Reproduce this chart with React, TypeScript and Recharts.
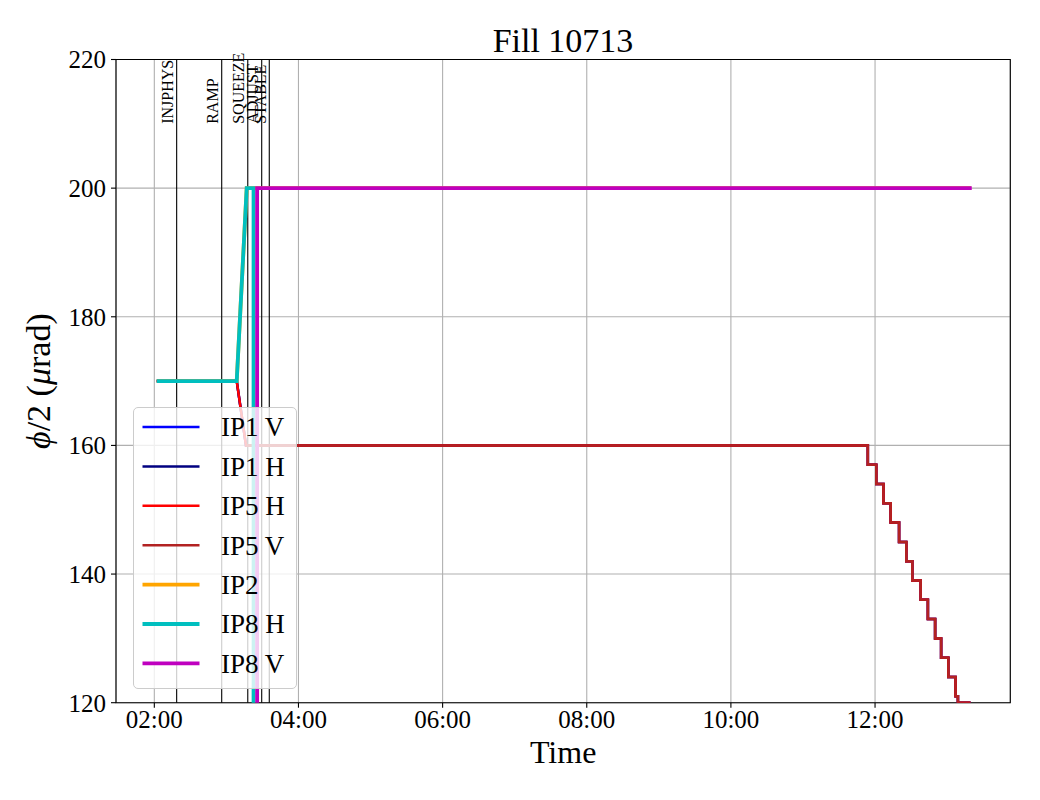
import React from 'react';
import {
  ComposedChart,
  Line,
  XAxis,
  YAxis,
  CartesianGrid,
  ReferenceLine,
  ReferenceArea,
  Legend,
} from 'recharts';

const FONT = '"Liberation Serif", "Times New Roman", Times, serif';

// Time is expressed in minutes after midnight
const X_DOMAIN: [number, number] = [88.1, 832.6];
const X_TICKS = [120, 240, 360, 480, 600, 720];
const Y_DOMAIN: [number, number] = [120, 220];
const Y_TICKS = [120, 140, 160, 180, 200, 220];

// Beam-mode markers
const MODE_NAMES = ['INJPHYS', 'RAMP', 'SQUEEZE', 'ADJUST', 'STABLE'];
const MODE_TIMES = [138.6, 176.1, 197.8, 209.4, 215.7];

// Leveling staircase (IP1 / IP5)
const STEP_TIMES = [714, 721, 727, 733, 740, 746, 751, 758, 764, 770, 775, 781, 787, 789];
const STEP_VALUES = [157, 154, 151, 148, 145, 142, 139, 136, 133, 130, 127, 124, 121, 120];
const END_TIME = 799.5;

// Start of the fill (before leveling)
const IP15_START: [number, number][] = [
  [122, 170],
  [188.6, 170],
  [196.3, 160],
];
const IP5V_START: [number, number][] = [[196.3, 160]];

const IP2_POINTS: [number, number][] = [
  [122, 170],
  [188.6, 170],
  [196.9, 200],
  [800, 200],
];
const IP8H_POINTS: [number, number][] = [
  [122, 170],
  [188.6, 170],
  [196.9, 200],
  [202.6, 200],
  [202.6, -200],
];
const IP8V_POINTS: [number, number][] = [
  [205.6, -200],
  [205.6, 200],
  [800.5, 200],
];

type Pt = { t: number; v: number };

function toPts(arr: [number, number][]): Pt[] {
  return arr.map(([t, v]) => ({ t, v }));
}

function stairs(start: [number, number][], times: number[], values: number[], end: number): Pt[] {
  const pts = toPts(start);
  let prev = pts[pts.length - 1].v;
  times.forEach((t, i) => {
    pts.push({ t, v: prev });
    pts.push({ t, v: values[i] });
    prev = values[i];
  });
  pts.push({ t: end, v: prev });
  return pts;
}

const ip1v = stairs(IP15_START, STEP_TIMES, STEP_VALUES, END_TIME);
const ip1h = stairs(IP15_START, STEP_TIMES, STEP_VALUES, END_TIME);
const ip5h = stairs(IP15_START, STEP_TIMES, STEP_VALUES, END_TIME);
const ip5v = stairs(IP5V_START, STEP_TIMES, STEP_VALUES, END_TIME);
const ip2 = toPts(IP2_POINTS);
const ip8h = toPts(IP8H_POINTS);
const ip8v = toPts(IP8V_POINTS);

const SERIES = [
  { name: 'IP1 V', data: ip1v, color: '#0000ff', width: 2.5 },
  { name: 'IP1 H', data: ip1h, color: '#000080', width: 2.5 },
  { name: 'IP5 H', data: ip5h, color: '#ff0000', width: 2.5 },
  { name: 'IP5 V', data: ip5v, color: '#b22222', width: 2.5 },
  { name: 'IP2', data: ip2, color: '#ffa500', width: 3.8 },
  { name: 'IP8 H', data: ip8h, color: '#00bfbf', width: 3.8 },
  { name: 'IP8 V', data: ip8v, color: '#bf00bf', width: 3.8 },
];

const fmtTime = (m: number) => {
  const h = Math.floor(m / 60);
  const mm = Math.round(m - h * 60);
  return `${String(h).padStart(2, '0')}:${String(mm).padStart(2, '0')}`;
};

const ModeLabel = (props: any) => {
  const vb = props.viewBox || {};
  const x = vb.x - 3.5;
  const y = vb.y + 0.1 * vb.height;
  return (
    <text
      transform={`translate(${x}, ${y}) rotate(-90)`}
      textAnchor="start"
      fontFamily={FONT}
      fontSize={16}
      fill="#000"
    >
      {props.text}
    </text>
  );
};

const YLabel = (props: any) => {
  const vb = props.viewBox || {};
  const cy = vb.y + vb.height / 2;
  return (
    <text
      transform={`translate(50, ${cy}) rotate(-90)`}
      textAnchor="middle"
      fontFamily={FONT}
      fontSize={34}
      fill="#000"
    >
      <tspan fontStyle="italic">ϕ</tspan>
      <tspan>/2 (</tspan>
      <tspan fontStyle="italic">μ</tspan>
      <tspan>rad)</tspan>
    </text>
  );
};

const XLabel = (props: any) => {
  const vb = props.viewBox || {};
  const cx = vb.x + vb.width / 2;
  return (
    <text x={cx} y={763} textAnchor="middle" fontFamily={FONT} fontSize={32} fill="#000">
      Time
    </text>
  );
};

const LegendBox = () => {
  const rowH = 39.4;
  return (
    <div
      style={{
        width: 164,
        height: 282,
        boxSizing: 'border-box',
        border: '1px solid #cccccc',
        borderRadius: 5,
        background: 'rgba(255,255,255,0.8)',
        position: 'relative',
      }}
    >
      <svg width={164} height={282} style={{ position: 'absolute', left: -1, top: -1 }}>
        {SERIES.map((s, i) => {
          const cy = 20 + i * rowH;
          return (
            <g key={s.name}>
              <line x1={9.5} x2={66.5} y1={cy} y2={cy} stroke={s.color} strokeWidth={s.width} />
              <text x={88} y={cy + 9.3} fontFamily={FONT} fontSize={27} fill="#000">
                {s.name}
              </text>
            </g>
          );
        })}
      </svg>
    </div>
  );
};

export default function App() {
  return (
    <div style={{ position: 'absolute', left: 0, top: 0, width: 1040, height: 800, background: '#fff' }}>
      <svg
        width={1040}
        height={60}
        style={{ position: 'absolute', left: 0, top: 0, pointerEvents: 'none' }}
      >
        <text x={563} y={52} textAnchor="middle" fontFamily={FONT} fontSize={34} fill="#000">
          Fill 10713
        </text>
      </svg>
      <ComposedChart
        width={1040}
        height={800}
        margin={{ top: 59.5, right: 29.7, bottom: 0, left: 0 }}
        style={{ position: 'absolute', left: 0, top: 0 }}
      >
        <CartesianGrid stroke="#b0b0b0" strokeWidth={1.1} />
        <XAxis
          dataKey="t"
          type="number"
          domain={X_DOMAIN}
          ticks={X_TICKS}
          allowDataOverflow
          tickFormatter={fmtTime}
          height={97.3}
          tickSize={5}
          tickMargin={3}
          axisLine={false}
          tickLine={{ stroke: '#000', strokeWidth: 1.1 }}
          tick={{ fontFamily: FONT, fontSize: 25, fill: '#000' }}
          label={<XLabel />}
        />
        <YAxis
          type="number"
          domain={Y_DOMAIN}
          ticks={Y_TICKS}
          allowDataOverflow
          width={116}
          tickSize={5}
          tickMargin={5}
          axisLine={false}
          tickLine={{ stroke: '#000', strokeWidth: 1.1 }}
          tick={{ fontFamily: FONT, fontSize: 25, fill: '#000' }}
          label={<YLabel />}
        />
        {MODE_TIMES.map((t, i) => (
          <ReferenceLine
            key={MODE_NAMES[i]}
            x={t}
            stroke="#000"
            strokeWidth={1.1}
            label={<ModeLabel text={MODE_NAMES[i]} />}
          />
        ))}
        {SERIES.map((s) => (
          <Line
            key={s.name}
            data={s.data}
            dataKey="v"
            name={s.name}
            type="linear"
            stroke={s.color}
            strokeWidth={s.width}
            dot={false}
            activeDot={false}
            isAnimationActive={false}
          />
        ))}
        <ReferenceArea
          x1={X_DOMAIN[0]}
          x2={X_DOMAIN[1]}
          y1={Y_DOMAIN[0]}
          y2={Y_DOMAIN[1]}
          fill="none"
          fillOpacity={0}
          stroke="#000"
          strokeWidth={1.1}
        />
        <Legend
          layout="vertical"
          align="center"
          verticalAlign="middle"
          content={() => <LegendBox />}
          wrapperStyle={{ position: 'absolute', left: 133, top: 406.5, width: 164, height: 282 }}
        />
      </ComposedChart>
    </div>
  );
}
